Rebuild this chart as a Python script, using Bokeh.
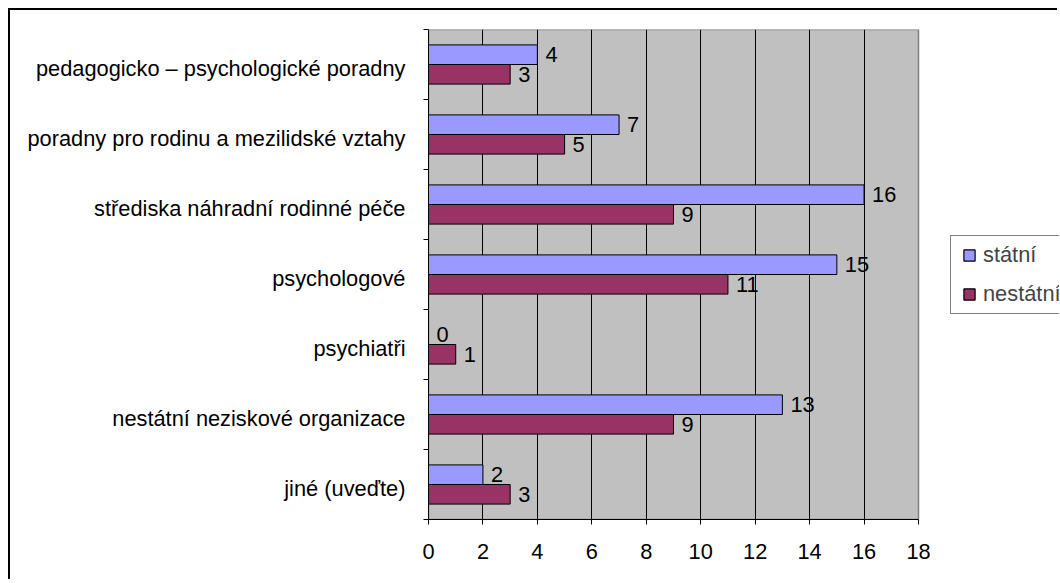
from bokeh.plotting import figure
from bokeh.models import ColumnDataSource, Range1d, FixedTicker, Legend, LegendItem
from bokeh.core.properties import value
from bokeh.embed import file_html
from bokeh.resources import INLINE

categories = [
    "pedagogicko – psychologické poradny",
    "poradny pro rodinu a mezilidské vztahy",
    "střediska náhradní rodinné péče",
    "psychologové",
    "psychiatři",
    "nestátní neziskové organizace",
    "jiné (uveďte)",
]
statni = [4, 7, 16, 15, 0, 13, 2]
nestatni = [3, 5, 9, 11, 1, 9, 3]
x_ticks = [0, 2, 4, 6, 8, 10, 12, 14, 16, 18]
series_names = ["státní", "nestátní"]
colors = ["#9999FF", "#993366"]

FONT = "Liberation Sans"
FS = "21.8px"

# layout (pixels)
W, H = 1049, 571
LEFT, TOP, BOTTOM_M = 418, 19, 62
PLOT_W = 490                      # width of the grey plot area
FRAME_W = W - LEFT

n = len(categories)
centers = [n - i - 0.5 for i in range(n)]
label_pos = [c - 0.05 for c in centers]
bar_h = 0.28
x_min, x_max = x_ticks[0], x_ticks[-1]
x_end = x_min + (x_max - x_min) * FRAME_W / PLOT_W

src_s = ColumnDataSource(dict(y=[c + bar_h / 2 for c in centers], v=statni,
                              t=[str(v) for v in statni]))
src_n = ColumnDataSource(dict(y=[c - bar_h / 2 for c in centers], v=nestatni,
                              t=[str(v) for v in nestatni]))

p = figure(width=W, height=H, output_backend="svg", toolbar_location=None,
           x_range=Range1d(x_min, x_end), y_range=Range1d(0, n),
           min_border_left=LEFT, min_border_right=0, min_border_top=TOP,
           min_border_bottom=BOTTOM_M)
p.styles = {"border-left": "2px solid black", "border-top": "2px solid black",
            "margin-left": "8px", "margin-top": "8px"}
p.background_fill_color = "white"
p.border_fill_color = "white"
p.outline_line_color = None

# grey plot area
p.quad(left=[x_min], right=[x_max], bottom=[0], top=[n], fill_color="#C0C0C0",
       line_color="#808080", line_width=1.5, level="underlay")

p.xgrid.ticker = FixedTicker(ticks=x_ticks[1:-1])
p.xgrid.grid_line_color = "black"
p.xgrid.grid_line_width = 1
p.xgrid.level = "underlay"
p.ygrid.grid_line_color = None

r1 = p.hbar(y="y", left=0, right="v", height=bar_h, source=src_s, fill_color=colors[0],
            line_color="black", line_width=1)
r2 = p.hbar(y="y", left=0, right="v", height=bar_h, source=src_n, fill_color=colors[1],
            line_color="black", line_width=1)

# square legend keys: zero-size markers sitting on the bar ends (invisible in the plot)
k1 = p.scatter(x="v", y="y", source=src_s, marker="square", size=0,
               fill_color=colors[0], line_color="black", line_width=1.2)
k2 = p.scatter(x="v", y="y", source=src_n, marker="square", size=0,
               fill_color=colors[1], line_color="black", line_width=1.2)

for src in (src_s, src_n):
    p.text(x="v", y="y", text="t", source=src, x_offset=8, text_baseline="middle",
           text_align="left", text_font=value(FONT), text_font_size=FS, text_color="black")

# x axis
p.xaxis.ticker = FixedTicker(ticks=x_ticks)
p.xaxis.bounds = (x_min, x_max)
p.xaxis.axis_line_color = "black"
p.xaxis.major_tick_out = 5
p.xaxis.major_tick_in = 0
p.xaxis.minor_tick_line_color = None
p.xaxis.major_label_text_font = FONT
p.xaxis.major_label_text_font_size = FS
p.xaxis.major_label_text_color = "black"
p.xaxis.major_label_standoff = 19

# y axis: labels at category centres, ticks at category boundaries
p.yaxis.ticker = FixedTicker(ticks=label_pos, minor_ticks=list(range(n + 1)))
p.yaxis.major_label_overrides = {c: lab for c, lab in zip(label_pos, categories)}
p.yaxis.axis_line_color = "black"
p.yaxis.major_tick_out = 0
p.yaxis.major_tick_in = 0
p.yaxis.minor_tick_out = 5
p.yaxis.minor_tick_in = 0
p.yaxis.minor_tick_line_color = "black"
p.yaxis.major_label_text_font = FONT
p.yaxis.major_label_text_font_size = FS
p.yaxis.major_label_text_color = "black"
p.yaxis.major_label_standoff = 18

leg = Legend(items=[LegendItem(label=series_names[0], renderers=[k1]),
                    LegendItem(label=series_names[1], renderers=[k2])])
leg.location = (522, 205)
leg.margin = 0
leg.padding = 4
leg.spacing = 9
leg.label_height = 30
leg.glyph_width = 28
leg.glyph_height = 30
leg.label_standoff = 0
leg.label_text_font = FONT
leg.label_text_font_size = FS
leg.border_line_color = "black"
leg.border_line_width = 1.2
leg.background_fill_color = "white"
leg.background_fill_alpha = 1
p.add_layout(leg, "center")

open("out.html", "w").write(file_html(p, INLINE))
